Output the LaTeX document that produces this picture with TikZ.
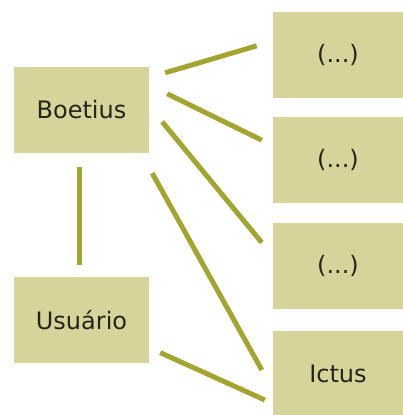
\documentclass[tikz,border=0pt]{standalone}
\usepackage{fontspec}
\setmainfont{DejaVu Sans}
\usetikzlibrary{positioning}
\definecolor{boxfill}{HTML}{D6D49A}
\definecolor{linkcol}{HTML}{A4A431}
\definecolor{txtcol}{HTML}{24241A}

\begin{document}
\begin{tikzpicture}[node distance=19pt,
	box/.style={fill=boxfill,text=txtcol,inner sep=0pt,minimum height=86pt,font=\fontsize{24}{28}\selectfont},
	leftbox/.style={box,minimum width=135pt},
	rightbox/.style={box,minimum width=130pt},
	link/.style={draw=linkcol,line width=5pt}]

\useasboundingbox (0,0) rectangle (403pt,-415pt);

\node[leftbox](boetius) at (81.5pt,-110pt){Boetius};
\node[leftbox](usuario)[below=124pt of boetius]{Usuário};
\node[rightbox](dots1) at (338pt,-55pt){(...)};
\node[rightbox](dots2)[below=of dots1]{(...)};
\node[rightbox](dots3)[below=of dots2]{(...)};
\node[rightbox](ictus)[below=22pt of dots3]{Ictus};

\path[link]([shift={(16pt,-6pt)}]boetius.north east)--([shift={(-16pt,-34pt)}]dots1.north west);
\path[link]([shift={(18pt,-27pt)}]boetius.north east)--([shift={(-11pt,-23pt)}]dots2.north west);
\path[link]([shift={(13pt,-55pt)}]boetius.north east)--([shift={(-11pt,-20pt)}]dots3.north west);
\path[link]([shift={(3pt,-20pt)}]boetius.south east)--([shift={(-11pt,-39pt)}]ictus.north west);
\path[link]([shift={(-2.5pt,-14pt)}]boetius.south)--([shift={(-2.5pt,12pt)}]usuario.north);
\path[link]([shift={(11pt,11pt)}]usuario.south east)--([shift={(-8pt,-69pt)}]ictus.north west);

\end{tikzpicture}
\end{document}
